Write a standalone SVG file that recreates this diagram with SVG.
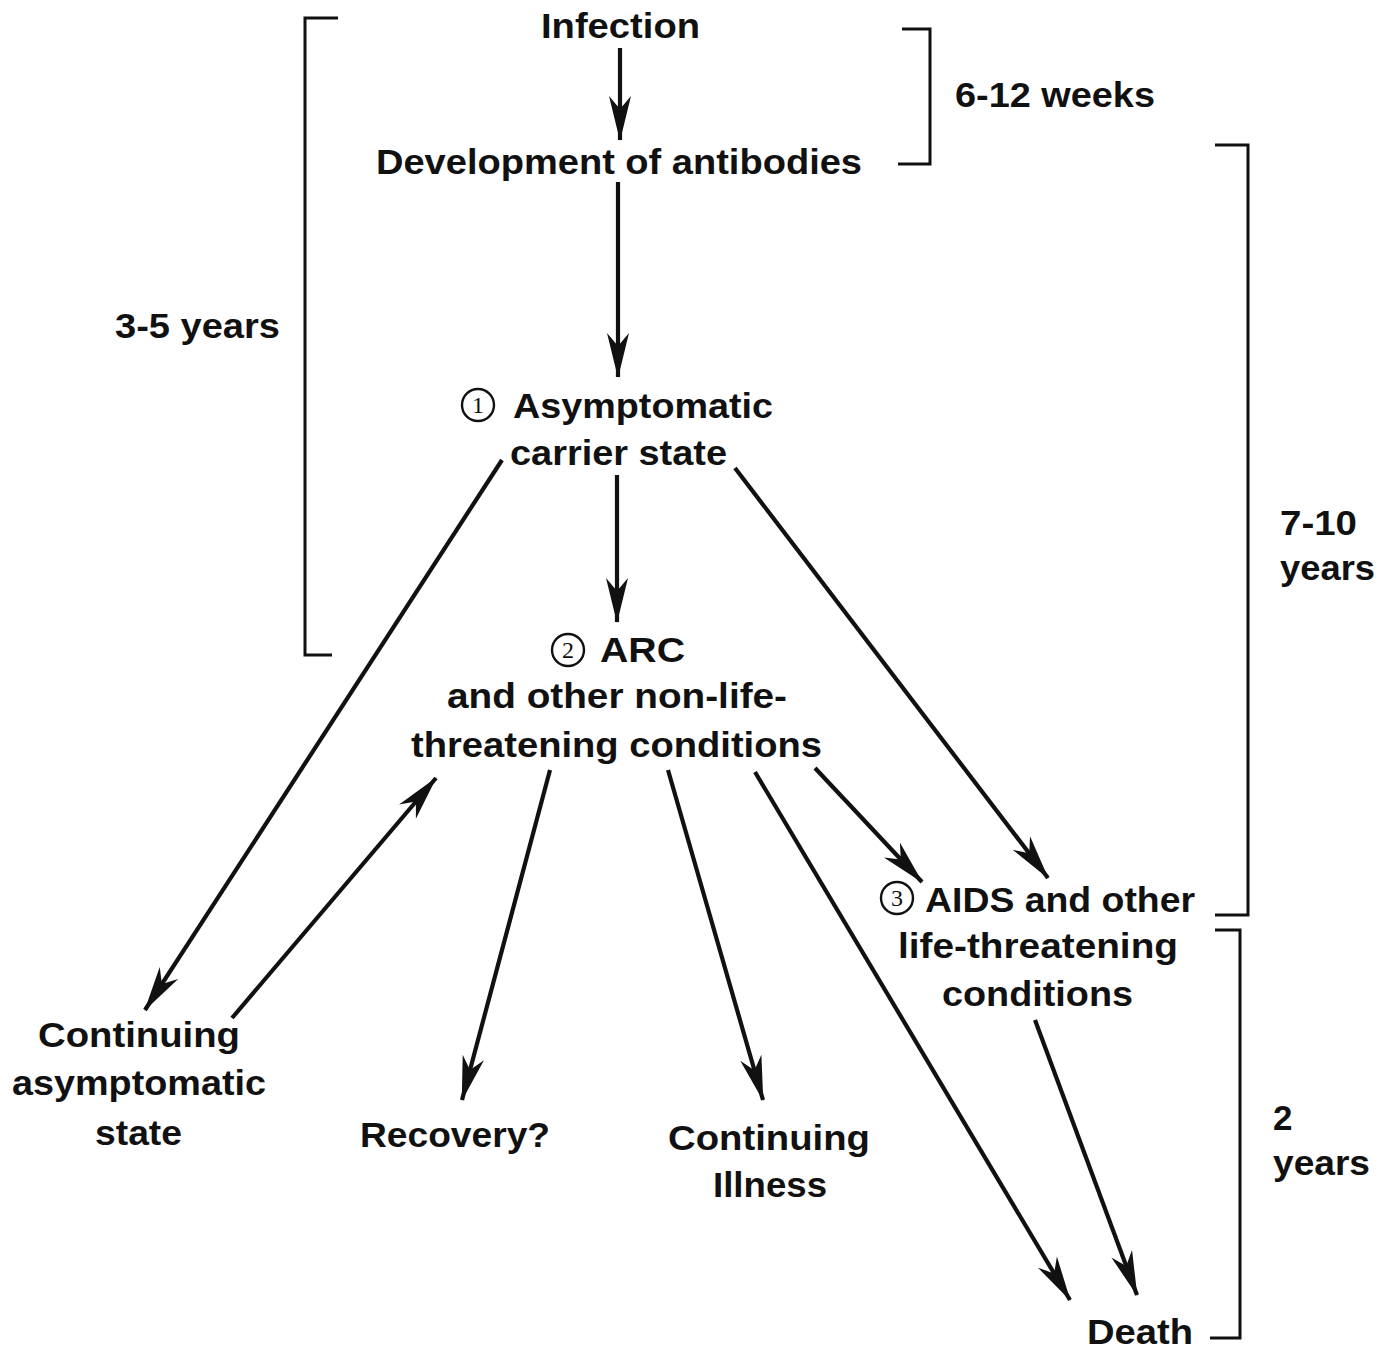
<svg xmlns="http://www.w3.org/2000/svg" width="1393" height="1352" viewBox="0 0 1393 1352">
<style>
text{font-family:"Liberation Sans",Arial,sans-serif;font-weight:bold;font-size:35px;fill:#111}
.num{font-family:"Liberation Serif",serif;font-weight:normal;font-size:24px;text-anchor:middle}
.br{fill:none;stroke:#111;stroke-width:3}
.c{fill:none;stroke:#111;stroke-width:2.4}
.ar{stroke:#111;stroke-width:4.2;fill:none;marker-end:url(#ah)}
</style>
<defs>
<marker id="ah" markerUnits="userSpaceOnUse" viewBox="-46 -13 48 26" refX="0" refY="0" markerWidth="48" markerHeight="26" orient="auto">
<path d="M1,0 L-44,-11 L-31,0 L-44,11 Z" fill="#111"/>
</marker>
</defs>
<g id="brackets">
<polyline class="br" points="338,18 305,18 305,655 332,655"/>
<polyline class="br" points="902,29 930,29 930,164 898,164"/>
<polyline class="br" points="1215,145 1248,145 1248,915 1215,915"/>
<polyline class="br" points="1215,930 1240,930 1240,1338 1210,1338"/>
</g>
<g id="labels">
<text x="115" y="338" textLength="165" lengthAdjust="spacingAndGlyphs">3-5 years</text>
<text x="955" y="107" textLength="200" lengthAdjust="spacingAndGlyphs">6-12 weeks</text>
<text x="1280" y="535" textLength="77" lengthAdjust="spacingAndGlyphs">7-10</text>
<text x="1280" y="580" textLength="95" lengthAdjust="spacingAndGlyphs">years</text>
<text x="1273" y="1130">2</text>
<text x="1273" y="1175" textLength="97" lengthAdjust="spacingAndGlyphs">years</text>
</g>
<g id="infection"><text x="541" y="38" textLength="159" lengthAdjust="spacingAndGlyphs">Infection</text></g>
<g id="antibodies"><text x="376" y="174" textLength="486" lengthAdjust="spacingAndGlyphs">Development of antibodies</text></g>
<g id="asymptomatic">
<circle class="c" cx="478" cy="405" r="16"/><text class="num" x="478" y="413">1</text>
<text x="513" y="418" textLength="260" lengthAdjust="spacingAndGlyphs">Asymptomatic</text>
<text x="510" y="465" textLength="217" lengthAdjust="spacingAndGlyphs">carrier state</text>
</g>
<g id="arc">
<circle class="c" cx="568" cy="650" r="16"/><text class="num" x="568" y="658">2</text>
<text x="600" y="662" textLength="85" lengthAdjust="spacingAndGlyphs">ARC</text>
<text x="447" y="708" textLength="340" lengthAdjust="spacingAndGlyphs">and other non-life-</text>
<text x="411" y="757" textLength="411" lengthAdjust="spacingAndGlyphs">threatening conditions</text>
</g>
<g id="aids">
<circle class="c" cx="897" cy="898" r="16"/><text class="num" x="897" y="906">3</text>
<text x="925" y="912" textLength="270" lengthAdjust="spacingAndGlyphs">AIDS and other</text>
<text x="898" y="958" textLength="280" lengthAdjust="spacingAndGlyphs">life-threatening</text>
<text x="942" y="1006" textLength="191" lengthAdjust="spacingAndGlyphs">conditions</text>
</g>
<g id="continuing-asymptomatic">
<text x="38" y="1047" textLength="202" lengthAdjust="spacingAndGlyphs">Continuing</text>
<text x="12" y="1095" textLength="254" lengthAdjust="spacingAndGlyphs">asymptomatic</text>
<text x="95" y="1145" textLength="87" lengthAdjust="spacingAndGlyphs">state</text>
</g>
<g id="recovery"><text x="360" y="1147" textLength="190" lengthAdjust="spacingAndGlyphs">Recovery?</text></g>
<g id="continuing-illness">
<text x="668" y="1150" textLength="202" lengthAdjust="spacingAndGlyphs">Continuing</text>
<text x="713" y="1197" textLength="114" lengthAdjust="spacingAndGlyphs">Illness</text>
</g>
<g id="death"><text x="1087" y="1344" font-size="34" textLength="106" lengthAdjust="spacingAndGlyphs">Death</text></g>
<g id="connectors">
<line class="ar" x1="620" y1="48" x2="620" y2="140"/>
<line class="ar" x1="618" y1="182" x2="618" y2="377"/>
<line class="ar" x1="617" y1="475" x2="617" y2="622"/>
<line class="ar" x1="502" y1="460" x2="145" y2="1010"/>
<line class="ar" x1="232" y1="1018" x2="436" y2="778"/>
<line class="ar" x1="550" y1="770" x2="462" y2="1100"/>
<line class="ar" x1="668" y1="770" x2="763" y2="1100"/>
<line class="ar" x1="755" y1="772" x2="1070" y2="1300"/>
<line class="ar" x1="815" y1="768" x2="922" y2="882"/>
<line class="ar" x1="735" y1="468" x2="1048" y2="878"/>
<line class="ar" x1="1035" y1="1020" x2="1137" y2="1295"/>
</g>
</svg>
